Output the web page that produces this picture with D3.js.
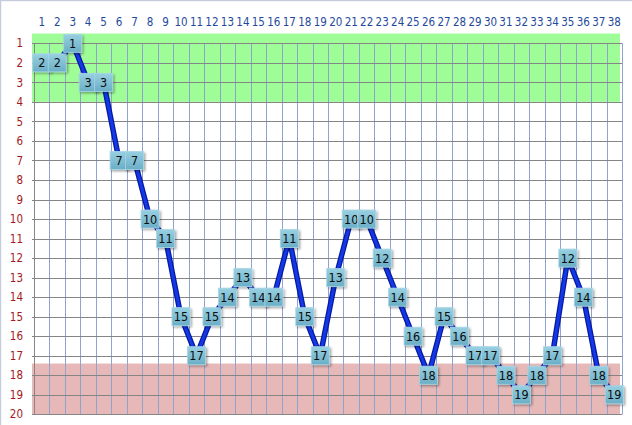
<!DOCTYPE html>
<html>
<head>
<meta charset="utf-8">
<script src="https://cdn.jsdelivr.net/npm/d3@7"></script>
<style>
  body { margin: 0; background: #fff; }
  svg { display: block; }
</style>
</head>
<body>
<script>
// rounds on the top axis, league position on the left axis (1 = top)
const rounds = [1, 2, 3, 4, 5, 6, 7, 8, 9, 10, 11, 12, 13, 14, 15, 16, 17, 18, 19,
  20, 21, 22, 23, 24, 25, 26, 27, 28, 29, 30, 31, 32, 33, 34, 35, 36, 37, 38];
const positions = [2, 2, 1, 3, 3, 7, 7, 10, 11, 15, 17, 15, 14, 13, 14, 14, 11, 15, 17,
  13, 10, 10, 12, 14, 16, 18, 15, 16, 17, 17, 18, 19, 18, 17, 12, 14, 18, 19];
const places = [1, 2, 3, 4, 5, 6, 7, 8, 9, 10, 11, 12, 13, 14, 15, 16, 17, 18, 19, 20];
// coloured zones: [from, to] in position units
const topZone = [0.5, 4];
const bottomZone = [17.4, 20];

const width = 632;
const height = 425;

const data = rounds.map((r, i) => ({ r, p: positions[i] }));

const x = d3.scaleBand()
  .domain(rounds)
  .range([34, 622]);
const y = d3.scaleLinear()
  .domain([1, 20])
  .range([43.3, 414.3]);
const cx = (r) => x(r) + x.bandwidth() / 2;

const svg = d3.select('body')
  .append('svg')
  .attr('width', width)
  .attr('height', height);

// defs: label gradient + shadow
const defs = svg.append('defs');
const grad = defs.append('linearGradient')
  .attr('id', 'boxfill')
  .attr('x1', 0).attr('y1', 0).attr('x2', 0).attr('y2', 1);
grad.append('stop').attr('offset', '0%').attr('stop-color', '#98d0e2');
grad.append('stop').attr('offset', '100%').attr('stop-color', '#6aaec6');
defs.append('filter')
  .attr('id', 'shadow')
  .attr('x', '-30%').attr('y', '-30%').attr('width', '160%').attr('height', '160%')
  .append('feDropShadow')
  .attr('dx', 1.5).attr('dy', 1.5).attr('stdDeviation', 1)
  .attr('flood-color', '#000').attr('flood-opacity', 0.35);

// chart frame
svg.append('rect')
  .attr('x', 0.5).attr('y', 0.5)
  .attr('width', width + 10).attr('height', height + 10)
  .attr('fill', 'none')
  .attr('stroke', '#c5cddd')
  .attr('stroke-width', 1.5);

const x0 = x.range()[0];
const x1 = x.range()[1];

// zones
svg.append('rect')
  .attr('x', x0 - 2).attr('y', y(topZone[0]))
  .attr('width', x1 - x0).attr('height', y(topZone[1]) - y(topZone[0]))
  .attr('fill', '#9ffd97');
svg.append('rect')
  .attr('x', x0 - 2).attr('y', y(bottomZone[0]))
  .attr('width', x1 - x0).attr('height', y(bottomZone[1]) - y(bottomZone[0]))
  .attr('fill', '#e6b9b8');

// vertical grid (band edges)
const edges = rounds.map((r) => x(r)).concat([x1]);
svg.append('g')
  .selectAll('line')
  .data(edges)
  .join('line')
  .attr('x1', (d) => Math.round(d) + 0.5)
  .attr('x2', (d) => Math.round(d) + 0.5)
  .attr('y1', y(1))
  .attr('y2', y(20))
  .attr('stroke', (d, i) => (i === 0 ? '#868686' : '#8ea3cf'))
  .attr('stroke-width', 1);

// horizontal grid
svg.append('g')
  .selectAll('line')
  .data(places)
  .join('line')
  .attr('x1', x0 - 2)
  .attr('x2', x1)
  .attr('y1', (d) => Math.round(y(d)) + 0.5)
  .attr('y2', (d) => Math.round(y(d)) + 0.5)
  .attr('stroke', '#858585')
  .attr('stroke-width', 1);

// axes
const font = '"DejaVu Sans Condensed", "DejaVu Sans", sans-serif';
const gTop = svg.append('g')
  .attr('transform', 'translate(0, 30)')
  .call(d3.axisTop(x).tickSize(0).tickPadding(4));
gTop.select('.domain').remove();
gTop.selectAll('text')
  .attr('font-family', font)
  .attr('font-size', 11.5)
  .attr('fill', '#1f4a9c');

const gLeft = svg.append('g')
  .attr('transform', 'translate(23, 0)')
  .call(d3.axisLeft(y).tickValues(places).tickFormat(d3.format('d')).tickSize(0).tickPadding(0));
gLeft.select('.domain').remove();
gLeft.selectAll('text')
  .attr('font-family', font)
  .attr('font-size', 11.5)
  .attr('fill', '#a3191c');

// position line
const line = d3.line()
  .x((d) => cx(d.r))
  .y((d) => y(d.p));
svg.append('path')
  .datum(data)
  .attr('d', line)
  .attr('fill', 'none')
  .attr('stroke', '#061a9e')
  .attr('stroke-width', 5.5)
  .attr('stroke-linejoin', 'round');
svg.append('path')
  .datum(data)
  .attr('d', line)
  .attr('fill', 'none')
  .attr('stroke', '#1438e8')
  .attr('stroke-width', 3)
  .attr('stroke-linejoin', 'round');

// value labels
const box = 18;
const labels = svg.append('g')
  .selectAll('g')
  .data(data)
  .join('g')
  .attr('transform', (d) => `translate(${cx(d.r)}, ${y(d.p)})`);

labels.append('rect')
  .attr('x', -box / 2)
  .attr('y', -box / 2)
  .attr('width', box)
  .attr('height', box)
  .attr('fill', 'url(#boxfill)')
  .attr('stroke', '#a8d6e6')
  .attr('stroke-width', 0.8)
  .attr('filter', 'url(#shadow)');

labels.append('text')
  .attr('text-anchor', 'middle')
  .attr('dy', '0.37em')
  .attr('font-family', font)
  .attr('font-size', 12.5)
  .attr('fill', '#0c0c0c')
  .text((d) => d.p);
</script>
</body>
</html>
